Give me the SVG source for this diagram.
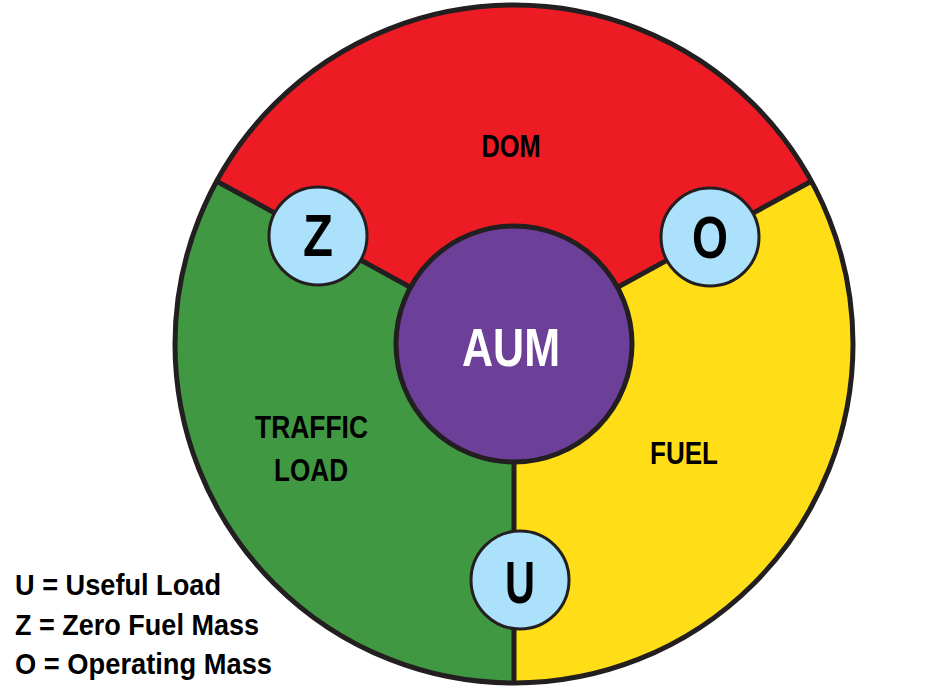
<svg xmlns="http://www.w3.org/2000/svg" width="927" height="694" viewBox="0 0 927 694">
<style>
.sect{stroke:none}
.div{stroke:#231F20;stroke-width:5;fill:none}
.rim{fill:none;stroke:#231F20;stroke-width:5}
.badge{fill:#ABE1FA;stroke:#231F20;stroke-width:3}
.t{font-family:"Liberation Sans",Arial,sans-serif;font-weight:bold;fill:#000;text-anchor:middle}
.lg{font-family:"Liberation Sans",Arial,sans-serif;font-weight:bold;fill:#000;font-size:30px}
</style>
<rect width="927" height="694" fill="#fff"/>
<g id="sectors">
<g id="dom">
<path class="sect" fill="#ED1C24" d="M514,344 L216.7,181.2 A339,339 0 0 1 811.3,181.2 Z"/>
<text class="t" x="511" y="157" font-size="31" textLength="59" lengthAdjust="spacingAndGlyphs">DOM</text>
</g>
<g id="traffic">
<path class="sect" fill="#409843" d="M514,344 L514,683 A339,339 0 0 1 216.7,181.2 Z"/>
<text class="t" x="311.5" y="438" font-size="32" textLength="113" lengthAdjust="spacingAndGlyphs">TRAFFIC</text>
<text class="t" x="311" y="481" font-size="32" textLength="74" lengthAdjust="spacingAndGlyphs">LOAD</text>
</g>
<g id="fuel">
<path class="sect" fill="#FFDE17" d="M514,344 L811.3,181.2 A339,339 0 0 1 514,683 Z"/>
<text class="t" x="684" y="464" font-size="32" textLength="68" lengthAdjust="spacingAndGlyphs">FUEL</text>
</g>
</g>
<g id="connectors">
<line class="div" x1="514" y1="344" x2="216.7" y2="181.2"/>
<line class="div" x1="514" y1="344" x2="811.3" y2="181.2"/>
<line class="div" x1="514" y1="344" x2="514" y2="683"/>
</g>
<circle class="rim" cx="514" cy="344" r="339"/>
<g id="aum">
<circle cx="514" cy="344" r="118" fill="#6C4098" stroke="#231F20" stroke-width="5"/>
<text class="t" x="511" y="366" font-size="54" textLength="98" lengthAdjust="spacingAndGlyphs" style="fill:#fff">AUM</text>
</g>
<g id="z">
<circle class="badge" cx="318" cy="236" r="49"/>
<text class="t" x="318" y="256" font-size="60" textLength="30" lengthAdjust="spacingAndGlyphs">Z</text>
</g>
<g id="o">
<circle class="badge" cx="710" cy="237" r="49"/>
<text class="t" x="710" y="258" font-size="60" textLength="36" lengthAdjust="spacingAndGlyphs">O</text>
</g>
<g id="u">
<circle class="badge" cx="520" cy="580" r="49"/>
<text class="t" x="520" y="603" font-size="60" textLength="30" lengthAdjust="spacingAndGlyphs">U</text>
</g>
<g id="legend">
<text class="lg" x="15" y="595" textLength="206" lengthAdjust="spacingAndGlyphs">U = Useful Load</text>
<text class="lg" x="15" y="635" textLength="244" lengthAdjust="spacingAndGlyphs">Z = Zero Fuel Mass</text>
<text class="lg" x="15" y="674" textLength="257" lengthAdjust="spacingAndGlyphs">O = Operating Mass</text>
</g>
</svg>
